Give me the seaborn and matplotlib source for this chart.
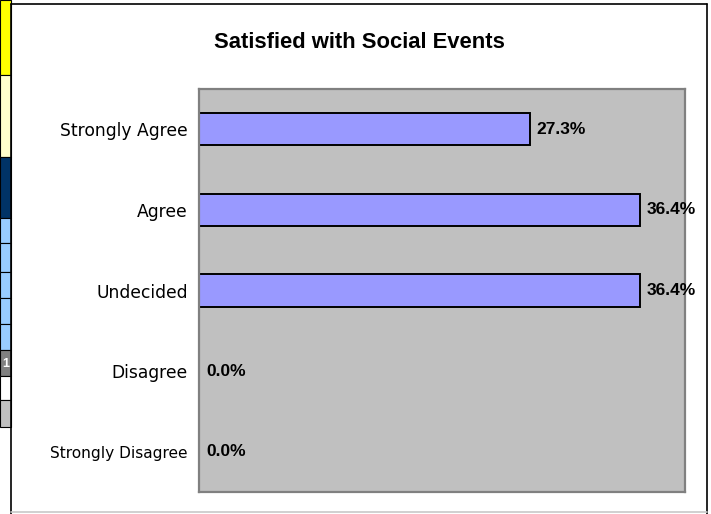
import matplotlib
matplotlib.use("Agg")
import matplotlib.pyplot as plt
import seaborn as sns
from matplotlib.patches import Rectangle

# survey answers, top to bottom
categories = ["Strongly Agree", "Agree", "Undecided", "Disagree", "Strongly Disagree"]
percent = [27.3, 36.4, 36.4, 0.0, 0.0]
value_labels = ["27.3%", "36.4%", "36.4%", "0.0%", "0.0%"]
title = "Satisfied with Social Events"

sns.set_style("white")
plt.rcParams["font.family"] = ["DejaVu Sans"]
plt.rcParams["text.color"] = "black"
plt.rcParams["ytick.color"] = "black"
plt.rcParams["ytick.labelcolor"] = "black"

W, H = 711, 514
fig = plt.figure(figsize=(W / 100, H / 100), dpi=100)

# bits of the spreadsheet visible at the left edge of the screenshot
cells = [(0, 75, "#FFFF00"), (75, 157, "#FFFFCC"), (157, 218, "#003366"),
         (218, 243, "#99CCFF"), (243, 272, "#99CCFF"), (272, 298, "#99CCFF"),
         (298, 324, "#99CCFF"), (324, 350, "#99CCFF"), (350, 376, "#808080"),
         (376, 400, "#FFFFFF"), (400, 427, "#C0C0C0")]
for y0, y1, c in cells:
    fig.patches.append(Rectangle((0, 1 - y1 / H), 11 / W, (y1 - y0) / H,
                                 transform=fig.transFigure, facecolor=c,
                                 edgecolor="black", linewidth=0.8))
fig.text(9 / W, 1 - 364 / H, "1", color="white", fontsize=9, weight="bold",
         ha="right", va="center", family="Liberation Sans")

# chart frame
fig.add_artist(plt.Line2D([11 / W, 11 / W], [0, 1 - 4 / H], color="black", lw=1.2,
                          transform=fig.transFigure))
fig.add_artist(plt.Line2D([11 / W, 707 / W], [1 - 4 / H, 1 - 4 / H], color="black", lw=1.2,
                          transform=fig.transFigure))
fig.add_artist(plt.Line2D([707 / W, 707 / W], [0, 1 - 4 / H], color="black", lw=1.2,
                          transform=fig.transFigure))
fig.add_artist(plt.Line2D([11 / W, 707 / W], [1 - 512 / H, 1 - 512 / H], color="#C8C8C8", lw=1.2,
                          transform=fig.transFigure))

ax = fig.add_axes([199 / W, 1 - 492 / H, (685 - 199) / W, (492 - 89) / H])
ax.set_facecolor("#C0C0C0")

sns.barplot(x=percent, y=categories, orient="h", color="#9999FF",
            edgecolor="black", linewidth=1.4, width=0.4, saturation=1, ax=ax)

ax.set_xlim(0, 40.1)
ax.set_ylim(4.5, -0.5)
ax.set_xticks([])
ax.set_xlabel("")
ax.set_ylabel("")
ax.tick_params(axis="y", length=0, pad=8, labelsize=12.3, labelcolor="black")
for lab in ax.get_yticklabels():
    if lab.get_text() == "Strongly Disagree":
        lab.set_fontsize(11.1)

for s in ax.spines.values():
    s.set_visible(True)
    s.set_color("#808080")
    s.set_linewidth(1.6)

ax.bar_label(ax.containers[0], labels=value_labels, padding=5, color="black",
             fontsize=12.5, weight="bold", family="Liberation Sans", clip_on=False)

fig.text(359 / W, 1 - 43 / H, title, ha="center", va="center", color="black",
         fontsize=15.8, weight="bold", family="Liberation Sans")

fig.savefig("out.png", dpi=100)
